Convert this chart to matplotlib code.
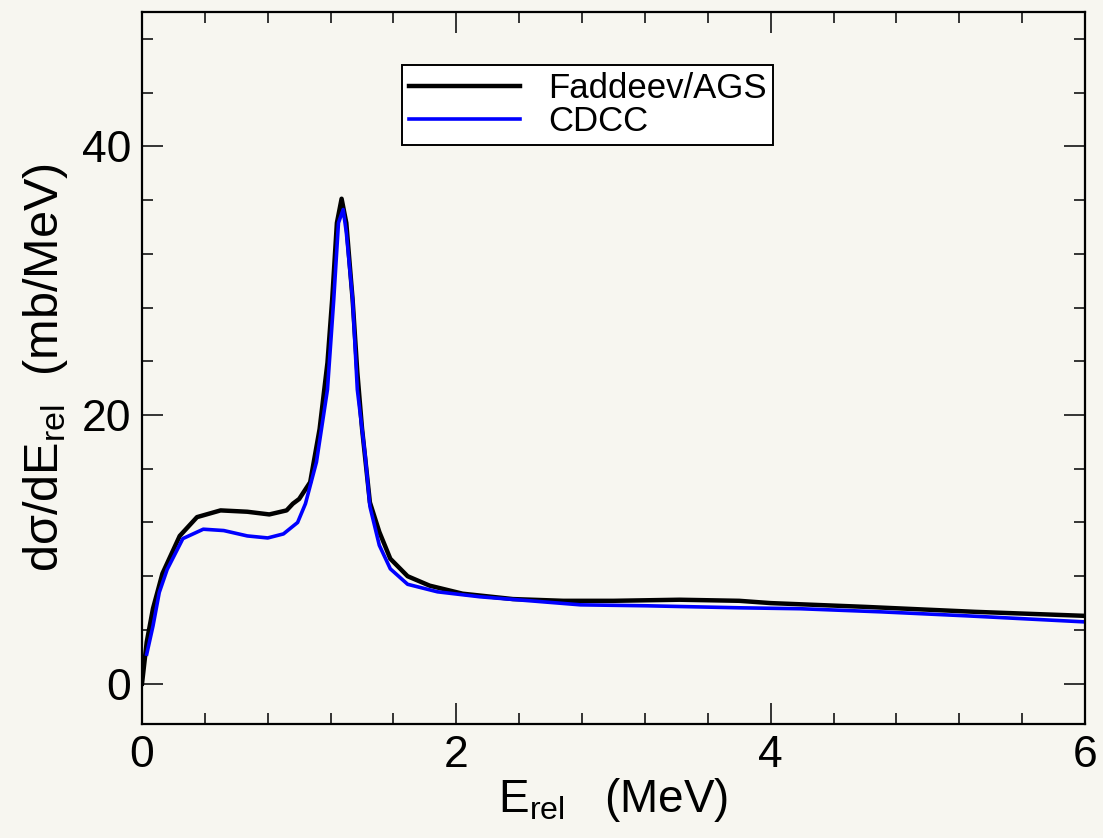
import numpy as np
import matplotlib
matplotlib.use("Agg")
import matplotlib.pyplot as plt
from matplotlib.ticker import MultipleLocator

# Faddeev/AGS curve
x_fad = [0.0, 0.03, 0.07, 0.13, 0.24, 0.35, 0.50, 0.67, 0.81, 0.92, 0.96, 1.0,
         1.07, 1.13, 1.18, 1.21, 1.24, 1.27, 1.30, 1.34, 1.37, 1.40, 1.45, 1.51,
         1.58, 1.69, 1.83, 2.04, 2.36, 2.68, 3.0, 3.42, 3.80, 4.0, 4.6, 5.3, 6.0]
y_fad = [0.0, 3.1, 5.6, 8.2, 11.0, 12.4, 12.9, 12.8, 12.6, 12.9, 13.4, 13.75,
         15.0, 18.96, 23.9, 28.6, 34.3, 36.1, 34.3, 28.6, 23.2, 19.0, 13.5, 11.3,
         9.3, 8.0, 7.3, 6.7, 6.3, 6.17, 6.17, 6.25, 6.17, 6.0, 5.72, 5.35, 5.05]

# CDCC curve
x_cdcc = [0.03, 0.07, 0.11, 0.16, 0.26, 0.39, 0.52, 0.67, 0.80, 0.90, 0.99, 1.04,
          1.11, 1.18, 1.22, 1.25, 1.28, 1.30, 1.34, 1.37, 1.42, 1.45, 1.51, 1.58,
          1.69, 1.88, 2.15, 2.47, 2.79, 3.21, 3.80, 4.19, 4.7, 5.25, 6.0]
y_cdcc = [2.2, 4.3, 6.8, 8.5, 10.8, 11.5, 11.4, 11.0, 10.85, 11.15, 12.0, 13.4,
          16.5, 21.9, 28.6, 34.3, 35.3, 33.6, 28.6, 21.9, 17.0, 13.2, 10.3, 8.55,
          7.4, 6.84, 6.47, 6.17, 5.87, 5.8, 5.65, 5.58, 5.35, 5.05, 4.6]

plt.rcParams['font.family'] = ['Liberation Sans', 'DejaVu Sans']
plt.rcParams['mathtext.fontset'] = 'custom'
plt.rcParams['mathtext.rm'] = 'Liberation Sans'
plt.rcParams['mathtext.it'] = 'Liberation Sans'

bg = '#f7f6f0'
fig = plt.figure(figsize=(11.03, 8.38), dpi=100, facecolor=bg)
ax = fig.add_axes([142/1103, 1-724/838, (1085-142)/1103, (724-12)/838])
ax.set_facecolor(bg)

ax.plot(x_fad, y_fad, color='black', lw=3.2, label='Faddeev/AGS')
ax.plot(x_cdcc, y_cdcc, color='#0000ff', lw=2.6, label='CDCC')

ax.set_xlim(0, 6)
ax.set_ylim(-3, 50)
ax.xaxis.set_major_locator(MultipleLocator(2))
ax.xaxis.set_minor_locator(MultipleLocator(0.4))
ax.yaxis.set_major_locator(MultipleLocator(20))
ax.yaxis.set_minor_locator(MultipleLocator(4))
ax.tick_params(which='both', direction='in', top=True, right=True,
               labelsize=32, width=1.1, pad=8)
ax.tick_params(which='major', length=15)
ax.tick_params(which='minor', length=8)
for s in ax.spines.values():
    s.set_linewidth(1.6)

ax.set_xlabel(r'E$_{\mathregular{rel}}$   (MeV)', fontsize=33, labelpad=0)
ax.set_ylabel(r'd$\sigma$/dE$_{\mathregular{rel}}$  (mb/MeV)', fontsize=35,
              labelpad=8)

leg = ax.legend(loc='upper left', bbox_to_anchor=(402/1103, 1-65/838),
                bbox_transform=fig.transFigure, borderaxespad=0,
                fontsize=25, fancybox=False, framealpha=1, edgecolor='black',
                handlelength=3.2, labelspacing=0.0, borderpad=0.2,
                handletextpad=0.8)
leg.get_frame().set_linewidth(1.4)

fig.savefig('out.png', dpi=100, facecolor=bg)
